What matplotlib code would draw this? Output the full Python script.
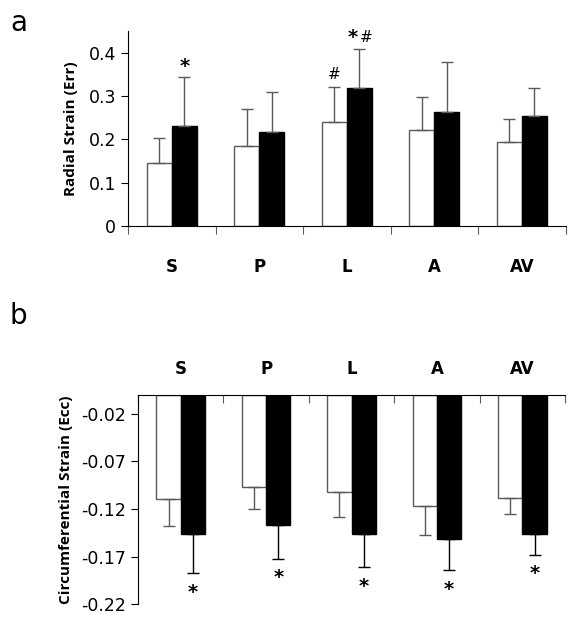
import matplotlib
matplotlib.use('Agg')
import matplotlib.pyplot as plt
import numpy as np

# --- data ---
segments = ['S', 'P', 'L', 'A', 'AV']

err_ctrl = [0.146, 0.184, 0.241, 0.222, 0.195]
err_ctrl_sd = [0.056, 0.087, 0.081, 0.075, 0.051]
err_trt = [0.231, 0.217, 0.319, 0.264, 0.254]
err_trt_sd = [0.113, 0.093, 0.090, 0.114, 0.065]
err_ctrl_marks = ['', '', '#', '', '']
err_trt_marks = ['*', '', '*#', '', '']

ecc_ctrl = [-0.109, -0.0965, -0.102, -0.117, -0.108]
ecc_ctrl_sd = [0.029, 0.0235, 0.026, 0.030, 0.017]
ecc_trt = [-0.146, -0.137, -0.146, -0.151, -0.146]
ecc_trt_sd = [0.041, 0.035, 0.035, 0.033, 0.022]
ecc_trt_marks = ['*', '*', '*', '*', '*']

edge = '#5a5a5a'
w = 0.285
x = np.arange(len(segments))

fig = plt.figure(figsize=(5.88, 6.22), dpi=100)
tick_font = {'family': 'DejaVu Sans', 'size': 12.5}
lab_font = {'family': 'Open Sans', 'weight': 'bold', 'size': 11}
cat_font = {'family': 'DejaVu Sans', 'weight': 'bold', 'size': 12}


def mark(ax, text, xy, dy, va):
    # '*' is drawn bold, '#' plain, side by side when both are present
    n = len(text)
    for k, ch in enumerate(text):
        dx = (k - (n - 1) / 2) * 10
        if ch == '*':
            ax.annotate(ch, xy, xytext=(dx, dy), textcoords='offset points', ha='center', va=va,
                        fontsize=14, fontweight='bold')
        else:
            ax.annotate(ch, xy, xytext=(dx, dy + 2), textcoords='offset points', ha='center', va=va,
                        fontsize=11)


# --- Panel a: radial strain ---
ax1 = fig.add_axes([0.2177, 0.6367, 0.7443, 0.3133])
ax1.bar(x - w / 2, err_ctrl, w, color='white', edgecolor=edge, linewidth=1,
        yerr=[np.zeros(5), err_ctrl_sd], error_kw=dict(ecolor=edge, elinewidth=1, capsize=4, capthick=1))
ax1.bar(x + w / 2, err_trt, w, color='black', edgecolor='black', linewidth=1,
        yerr=[np.zeros(5), err_trt_sd], error_kw=dict(ecolor=edge, elinewidth=1, capsize=4, capthick=1))
for i in range(5):
    if err_ctrl_marks[i]:
        mark(ax1, err_ctrl_marks[i], (x[i] - w / 2, err_ctrl[i] + err_ctrl_sd[i]), 1, 'bottom')
    if err_trt_marks[i]:
        mark(ax1, err_trt_marks[i], (x[i] + w / 2, err_trt[i] + err_trt_sd[i]), 1, 'bottom')
ax1.set_xlim(-0.5, 4.5)
ax1.set_ylim(0, 0.45)
ax1.set_yticks([0, 0.1, 0.2, 0.3, 0.4])
ax1.set_yticklabels(['0', '0.1', '0.2', '0.3', '0.4'], fontdict=tick_font)
ax1.set_xticks(np.arange(-0.5, 5, 1))
ax1.set_xticklabels([])
ax1.tick_params(axis='x', length=6, color=edge)
ax1.tick_params(axis='y', length=5)
for s in ['top', 'right']:
    ax1.spines[s].set_visible(False)
for i, name in enumerate(segments):
    ax1.text(x[i], -0.095, name, ha='center', va='center', **cat_font)
ax1.set_ylabel('Radial Strain (Err)', labelpad=8, **lab_font)
fig.text(0.017, 0.985, 'a', fontsize=20, va='top', ha='left')

# --- Panel b: circumferential strain ---
ax2 = fig.add_axes([0.2347, 0.0284, 0.7263, 0.3372])
ax2.bar(x - w / 2, ecc_ctrl, w, color='white', edgecolor=edge, linewidth=1,
        yerr=[ecc_ctrl_sd, np.zeros(5)], error_kw=dict(ecolor=edge, elinewidth=1, capsize=4, capthick=1))
ax2.bar(x + w / 2, ecc_trt, w, color='black', edgecolor='black', linewidth=1,
        yerr=[ecc_trt_sd, np.zeros(5)], error_kw=dict(ecolor='black', elinewidth=1, capsize=4, capthick=1))
for i in range(5):
    mark(ax2, ecc_trt_marks[i], (x[i] + w / 2, ecc_trt[i] - ecc_trt_sd[i]), -7, 'top')
ax2.set_xlim(-0.5, 4.5)
ax2.set_ylim(-0.22, 0)
ax2.set_yticks([-0.02, -0.07, -0.12, -0.17, -0.22])
ax2.set_yticklabels(['-0.02', '-0.07', '-0.12', '-0.17', '-0.22'], fontdict=tick_font)
ax2.set_xticks(np.arange(-0.5, 5, 1))
ax2.set_xticklabels([])
ax2.xaxis.set_ticks_position('top')
ax2.tick_params(axis='x', direction='in', length=6, color=edge)
ax2.tick_params(axis='y', length=5)
for s in ['bottom', 'right']:
    ax2.spines[s].set_visible(False)
for i, name in enumerate(segments):
    ax2.text(x[i], 0.0265, name, ha='center', va='center', **cat_font)
ax2.set_ylabel('Circumferential Strain (Ecc)', labelpad=6, **lab_font)
fig.text(0.017, 0.515, 'b', fontsize=20, va='top', ha='left')

fig.savefig('out.png', dpi=100)
